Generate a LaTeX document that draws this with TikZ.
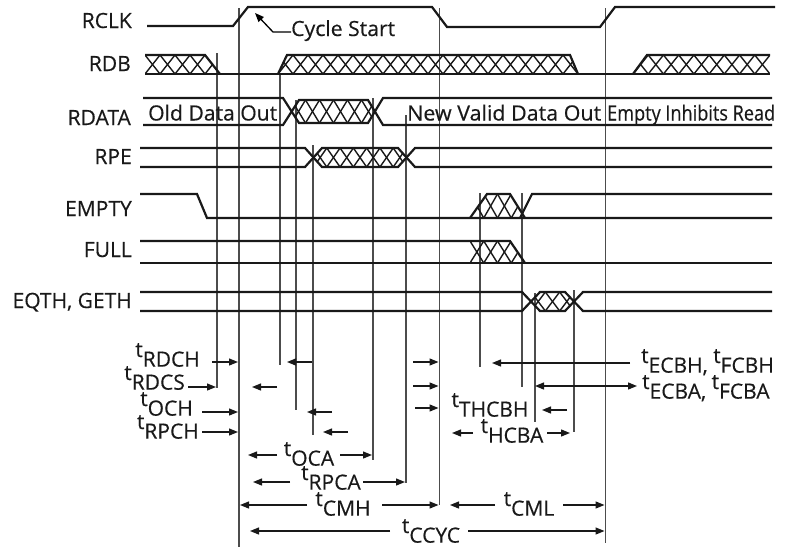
\documentclass[tikz,border=0pt]{standalone}
\usepackage{fontspec}
\setmainfont{Open Sans}[FakeBold=0.4]
\usetikzlibrary{arrows.meta}
\newcommand\tsb[1]{t\raisebox{-0.46em}{#1}}
\newcommand\fitw[2]{\resizebox{#1}{\height}{#2}}
\newcommand\hatchx[5]{%
  \pgfmathsetmacro\hatchw{(#2-#1)/#5}%
  \foreach \k in {1,...,#5}{%
    \draw[hat] ({#1+(\k-1)*\hatchw},#3) -- ({#1+\k*\hatchw},#4);
    \draw[hat] ({#1+(\k-1)*\hatchw},#4) -- ({#1+\k*\hatchw},#3);
  }}
\begin{document}
\begin{tikzpicture}[x=1pt,y=-1pt,
  sig/.style={line width=2.2pt, line join=miter, draw=black!90},
  hat/.style={line width=1.4pt, draw=black!90},
  vl/.style={line width=1.2pt, draw=black!70},
  dim/.style={line width=1.3pt, draw=black!90, -{Triangle[length=9pt,width=7pt]}},
  dimb/.style={line width=1.3pt, draw=black!90, {Triangle[length=9pt,width=7pt]}-{Triangle[length=9pt,width=7pt]}},
  lbl/.style={font=\fontsize{21}{25}\selectfont, inner sep=0pt, text=black!90},
]
\useasboundingbox (0,0) rectangle (809,547);

% vertical timing lines
\foreach \x/\a/\b in {217/53/388, 239/8/547, 280/74/365, 296/100/410, 313/145/435,
  373/98/460, 406/115/483, 439.5/8/505, 480/193/367, 522/193/387, 535/293/422,
  574/290/432, 605.5/8/543}
  \draw[vl] (\x,\a) -- (\x,\b);

% signal labels
\node[lbl, anchor=base east] (lrclk) at (132,28) {RCLK};
\node[lbl, anchor=base east] (lrdb) at (131,71) {RDB};
\node[lbl, anchor=base east] (lrdata) at (131,125) {RDATA};
\node[lbl, anchor=base east] (lrpe) at (132,164) {RPE};
\node[lbl, anchor=base east] (lempty) at (132,216) {EMPTY};
\node[lbl, anchor=base east] (lfull) at (132,257) {FULL};
\node[lbl, anchor=base east] (leqth) at (132,308) {EQTH, GETH};

% RCLK
\draw[sig] (147,26) -- (233,26) -- (248,7) -- (432,7) -- (447,27) -- (600,27) -- (615,7) -- (775,7);
\node[lbl, anchor=base west] (cyc) at (291,36) {\fitw{104pt}{Cycle Start}};
\coordinate (cyctip) at (255,13);
\draw[line width=1.3pt, -{Triangle[length=9pt,width=7pt]}] (cyc.west |- 0,32) -- (273,32) -- (cyctip);

% RDB
\begin{scope}
  \clip (145,55) -- (205,55) -- (220,74) -- (145,74) -- cycle;
  \hatchx{145}{220}{55}{74}{5}
\end{scope}
\begin{scope}
  \clip (278,74) -- (287,55) -- (570,55) -- (578,74) -- cycle;
  \hatchx{278}{578}{55}{74}{20}
\end{scope}
\begin{scope}
  \clip (633,74) -- (647,55) -- (770,55) -- (770,74) -- cycle;
  \hatchx{633}{770}{55}{74}{9}
\end{scope}
\draw[sig] (145,55) -- (205,55) -- (220,74);
\draw[sig] (145,74) -- (770,74);
\draw[sig] (278,74) -- (287,55) -- (570,55) -- (578,74);
\draw[sig] (633,74) -- (647,55) -- (770,55);

% RDATA
\begin{scope}
  \clip (291.5,111.5) -- (299,100) -- (368,100) -- (375.5,111.5) -- (368,123) -- (299,123) -- cycle;
  \hatchx{291.5}{375.5}{100}{123}{6}
\end{scope}
\draw[sig] (143,98) -- (283,98) -- (299,123) -- (368,123) -- (383,98) -- (772,98);
\draw[sig] (143,125) -- (283,125) -- (299,100) -- (368,100) -- (383,125) -- (772,125);
\node[lbl, anchor=base west] (old) at (148,120.5) {\fitw{129pt}{Old Data Out}};
\node[lbl, anchor=base west] (new) at (407,120.5) {\fitw{194pt}{New Valid Data Out}};
\node[lbl, anchor=base west] (inh) at (607,120.5) {\fitw{168pt}{Empty Inhibits Read}};

% RPE
\begin{scope}
  \clip (313.5,157.5) -- (322,148) -- (398,148) -- (406.5,157.5) -- (398,167) -- (322,167) -- cycle;
  \hatchx{313.5}{406.5}{148}{167}{7}
\end{scope}
\draw[sig] (140,148) -- (305,148) -- (322,167) -- (398,167) -- (415,148) -- (772,148);
\draw[sig] (140,167) -- (305,167) -- (322,148) -- (398,148) -- (415,167) -- (772,167);

% EMPTY
\begin{scope}
  \clip (470,218) -- (487,194) -- (510,194) -- (525,218) -- cycle;
  \hatchx{470}{525}{194}{218}{4}
\end{scope}
\draw[sig] (140,194) -- (197,194) -- (207,218) -- (772,218);
\draw[sig] (470,218) -- (487,194) -- (510,194) -- (525,218);
\draw[sig] (520,218) -- (532,194) -- (772,194);

% FULL
\begin{scope}
  \clip (470,241) -- (510,241) -- (525,263) -- (470,263) -- cycle;
  \hatchx{470}{525}{241}{263}{4}
\end{scope}
\draw[sig] (140,241) -- (510,241) -- (525,263);
\draw[sig] (140,263) -- (772,263);

% EQTH, GETH
\begin{scope}
  \clip (531,301.5) -- (540,292) -- (565,292) -- (574,301.5) -- (565,311) -- (540,311) -- cycle;
  \hatchx{531}{574}{292}{311}{3}
\end{scope}
\draw[sig] (140,292) -- (522,292) -- (540,311) -- (565,311) -- (583,292) -- (772,292);
\draw[sig] (140,311) -- (522,311) -- (540,292) -- (565,292) -- (583,311) -- (772,311);

% timing labels
\node[lbl, anchor=base east] (trdch) at (200,357) {\tsb{RDCH}};
\node[lbl, anchor=base east] (trdcs) at (185,380) {\tsb{RDCS}};
\node[lbl, anchor=base east] (toch) at (193,406) {\tsb{OCH}};
\node[lbl, anchor=base east] (trpch) at (199,429) {\tsb{RPCH}};
\node[lbl, anchor=base] (toca) at (309,456) {\tsb{OCA}};
\node[lbl, anchor=base] (trpca) at (331,480) {\tsb{RPCA}};
\node[lbl, anchor=base] (tcmh) at (343,506) {\tsb{CMH}};
\node[lbl, anchor=base] (tcml) at (529,506) {\tsb{CML}};
\node[lbl, anchor=base] (tccyc) at (431,533) {\tsb{CCYC}};
\node[lbl, anchor=base] (tthcbh) at (490,407) {\tsb{THCBH}};
\node[lbl, anchor=base] (thcba) at (512,433) {\tsb{HCBA}};
\node[lbl, anchor=base west] (tecbh) at (641,363) {\tsb{ECBH,} \tsb{FCBH}};
\node[lbl, anchor=base west] (tecba) at (642,389) {\tsb{ECBA,} \tsb{FCBA}};

% dimension arrows
\draw[dim] (212,362) -- (238,362);
\draw[dim] (312,362) -- (287,362);
\draw[dim] (413,362) -- (438.5,362);
\draw[dim] (188,387) -- (216,387);
\draw[dim] (277,387) -- (252,387);
\draw[dim] (413,386) -- (438.5,386);
\draw[dim] (202,412) -- (238,412);
\draw[dim] (332,412) -- (307,412);
\draw[dim] (415,408) -- (438.5,408);
\draw[dim] (202,432) -- (238,432);
\draw[dim] (348,432) -- (323,432);
\draw[dim] (277,455) -- (248,455);
\draw[dim] (340,455) -- (372,455);
\draw[dim] (290,482) -- (253,482);
\draw[dim] (363,482) -- (405,482);
\draw[dim] (307,505) -- (240,505);
\draw[dim] (382,505) -- (438.5,505);
\draw[dim] (495,505) -- (450,505);
\draw[dim] (563,505) -- (604.5,505);
\draw[dim] (390,531) -- (250,531);
\draw[dim] (468,531) -- (604.5,531);
\draw[dim] (630,363) -- (492,363);
\draw[dimb] (535,386) -- (637,386);
\draw[dim] (567,410) -- (542,410);
\draw[dim] (473,433) -- (452,433);
\draw[dim] (547,433) -- (570,433);
\end{tikzpicture}
\end{document}
